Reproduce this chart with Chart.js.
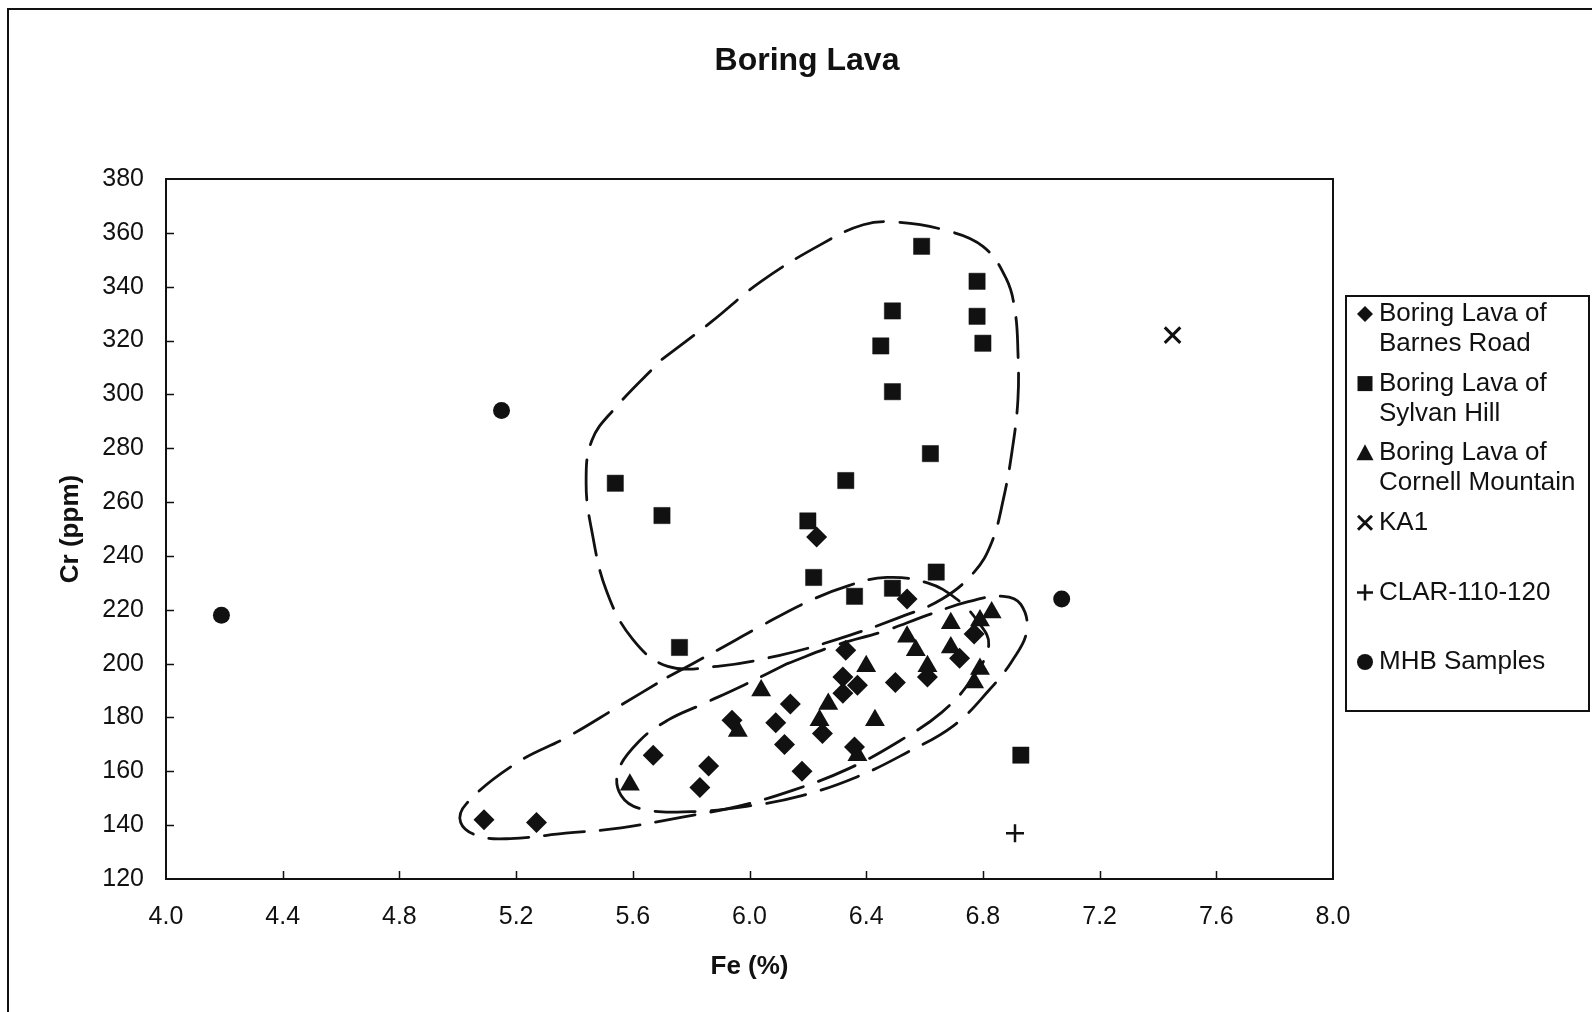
<!DOCTYPE html>
<html>
<head>
<meta charset="utf-8">
<script src="https://cdn.jsdelivr.net/npm/chart.js@4.4.1/dist/chart.umd.min.js"></script>
<style>
  html, body { margin: 0; padding: 0; background: #fff; }
  #wrap { width: 1592px; height: 1012px; }
</style>
</head>
<body>
<div id="wrap"><canvas id="canvas" width="1592" height="1012"></canvas></div>
<script>
// Boring Lava of Barnes Road (diamonds)
const barnesFe = [6.23, 6.54, 6.33, 6.77, 6.72, 6.32, 6.37, 6.50, 6.61, 6.32, 6.14, 5.94, 6.09, 6.25, 6.12, 6.36, 5.67, 5.86, 6.18, 5.83, 5.09, 5.27];
const barnesCr = [247, 224, 205, 211, 202, 195, 192, 193, 195, 189, 185, 179, 178, 174, 170, 169, 166, 162, 160, 154, 142, 141];

// Boring Lava of Sylvan Hill (squares)
const sylvanFe = [6.59, 6.78, 6.49, 6.78, 6.45, 6.80, 6.49, 6.62, 5.54, 6.33, 5.70, 6.20, 6.22, 6.64, 6.36, 6.49, 5.76, 6.93];
const sylvanCr = [355, 342, 331, 329, 318, 319, 301, 278, 267, 268, 255, 253, 232, 234, 225, 228, 206, 166];

// Boring Lava of Cornell Mountain (triangles)
const cornellFe = [6.83, 6.79, 6.69, 6.54, 6.57, 6.69, 6.61, 6.40, 6.79, 6.77, 6.04, 6.27, 6.24, 5.96, 6.43, 6.37, 5.59];
const cornellCr = [219, 216, 215, 210, 205, 206, 199, 199, 198, 193, 190, 185, 179, 175, 179, 166, 155];

const ka1Fe = [7.45];
const ka1Cr = [322];
const clarFe = [6.91];
const clarCr = [137];
const mhbFe = [5.15, 4.19, 7.07];
const mhbCr = [294, 218, 224];

// hand drawn dashed outlines
const loopAFe = [5.70, 5.87, 6.04, 6.25, 6.39, 6.50, 6.67, 6.80, 6.88, 6.91, 6.92, 6.92, 6.90, 6.87, 6.83, 6.77, 6.66, 6.51, 6.30, 6.10, 5.89, 5.72, 5.60, 5.51, 5.46, 5.44, 5.46, 5.54, 5.70];
const loopACr = [313, 327, 342, 356, 363, 364, 361, 355, 343, 331, 316, 298, 279, 261, 245, 234, 224, 217, 209, 203, 199, 199, 209, 227, 249, 267, 283, 295, 313];
const loopBFe = [5.72, 5.89, 6.04, 6.20, 6.34, 6.47, 6.61, 6.71, 6.78, 6.82, 6.76, 6.66, 6.51, 6.34, 6.15, 5.96, 5.77, 5.56, 5.37, 5.18, 5.07, 5.01, 5.03, 5.20, 5.38, 5.55, 5.72];
const loopBCr = [195, 205, 214, 223, 229, 232, 230, 224, 216, 207, 194, 182, 171, 161, 153, 147, 143, 139, 137, 135, 136, 141, 148, 163, 173, 184, 195];
const loopCFe = [6.13, 6.30, 6.46, 6.61, 6.75, 6.87, 6.93, 6.95, 6.90, 6.82, 6.70, 6.54, 6.37, 6.18, 5.99, 5.80, 5.63, 5.56, 5.55, 5.62, 5.72, 5.84, 5.98, 6.13];
const loopCCr = [200, 207, 212, 218, 223, 225, 222, 212, 201, 190, 177, 167, 158, 151, 147, 145, 146, 151, 160, 171, 179, 185, 192, 200];

const legendLabels = [
  ['Boring Lava of', 'Barnes Road'],
  ['Boring Lava of', 'Sylvan Hill'],
  ['Boring Lava of', 'Cornell Mountain'],
  ['KA1'],
  ['CLAR-110-120'],
  ['MHB Samples']
];
const xTicks = [4.0, 4.4, 4.8, 5.2, 5.6, 6.0, 6.4, 6.8, 7.2, 7.6, 8.0];

const ink = '#111';
const fontFamily = '"Liberation Sans", Arial, Helvetica, sans-serif';

const toPts = (xs, ys) => xs.map((x, i) => ({ x: x, y: ys[i] }));

function markerSet(label, xs, ys, style, radius, bw) {
  return {
    label: label,
    data: toPts(xs, ys),
    pointStyle: style,
    pointRadius: radius,
    pointBackgroundColor: ink,
    pointBorderColor: ink,
    pointBorderWidth: bw,
    showLine: false,
    order: 0
  };
}

function outline(label, xs, ys) {
  return {
    label: label,
    data: toPts(xs, ys),
    showLine: true,
    pointRadius: 0,
    borderColor: ink,
    borderWidth: 2.8,
    borderDash: [40, 16],
    borderCapStyle: 'round',
    tension: 0.4,
    fill: false,
    order: 1
  };
}

// frame, title, plot box, inner tick marks and legend box
const decorations = {
  id: 'decorations',
  afterDraw(chart) {
    const ctx = chart.ctx;
    const a = chart.chartArea;
    const xs = chart.scales.x, ys = chart.scales.y;
    ctx.save();
    ctx.strokeStyle = ink;
    ctx.fillStyle = ink;

    // outer frame
    ctx.lineWidth = 2;
    ctx.beginPath();
    ctx.moveTo(8, 1012); ctx.lineTo(8, 9); ctx.lineTo(1592, 9);
    ctx.stroke();

    // plot box
    ctx.strokeRect(a.left, a.top, a.right - a.left, a.bottom - a.top);

    // tick marks pointing inwards
    ctx.lineWidth = 1.5;
    ctx.beginPath();
    for (let v = 140; v < 380; v += 20) {
      const py = Math.round(ys.getPixelForValue(v)) + 0.5;
      ctx.moveTo(a.left, py); ctx.lineTo(a.left + 8, py);
    }
    xTicks.slice(1, -1).forEach(v => {
      const px = Math.round(xs.getPixelForValue(v)) + 0.5;
      ctx.moveTo(px, a.bottom); ctx.lineTo(px, a.bottom - 8);
    });
    ctx.stroke();

    // title
    ctx.font = 'bold 32px ' + fontFamily;
    ctx.textAlign = 'center';
    ctx.textBaseline = 'middle';
    ctx.fillText('Boring Lava', 807, 61);

    // legend
    const box = { left: 1346, top: 296, width: 243, height: 415 };
    ctx.lineWidth = 2;
    ctx.strokeRect(box.left, box.top, box.width, box.height);
    ctx.font = '26px ' + fontFamily;
    ctx.textAlign = 'left';
    const styles = ['diamond', 'square', 'triangle', 'x', 'plus', 'circle'];
    legendLabels.forEach((lines, i) => {
      const cy = 314 + i * 69.6;
      drawMarker(ctx, styles[i], 1365, cy);
      lines.forEach((t, j) => ctx.fillText(t, 1379, cy + j * 30));
    });
    ctx.restore();
  }
};

function drawMarker(ctx, style, x, y) {
  ctx.beginPath();
  if (style === 'diamond') {
    ctx.moveTo(x, y - 8); ctx.lineTo(x + 8, y); ctx.lineTo(x, y + 8); ctx.lineTo(x - 8, y);
    ctx.closePath(); ctx.fill();
  } else if (style === 'square') {
    ctx.rect(x - 7.5, y - 7.5, 15, 15); ctx.fill();
  } else if (style === 'triangle') {
    ctx.moveTo(x, y - 9); ctx.lineTo(x + 8.5, y + 7); ctx.lineTo(x - 8.5, y + 7);
    ctx.closePath(); ctx.fill();
  } else if (style === 'circle') {
    ctx.arc(x, y, 8, 0, Math.PI * 2); ctx.fill();
  } else if (style === 'x') {
    ctx.lineWidth = 3;
    ctx.moveTo(x - 7, y - 7); ctx.lineTo(x + 7, y + 7);
    ctx.moveTo(x + 7, y - 7); ctx.lineTo(x - 7, y + 7);
    ctx.stroke();
  } else if (style === 'plus') {
    ctx.lineWidth = 2.5;
    ctx.moveTo(x - 8, y); ctx.lineTo(x + 8, y);
    ctx.moveTo(x, y - 8); ctx.lineTo(x, y + 8);
    ctx.stroke();
  }
}

const ctx = document.getElementById('canvas').getContext('2d');
const chart = new Chart(ctx, {
  type: 'scatter',
  data: {
    datasets: [
      markerSet('Boring Lava of Barnes Road', barnesFe, barnesCr, 'rectRot', 10.5, 0),
      markerSet('Boring Lava of Sylvan Hill', sylvanFe, sylvanCr, 'rect', 11.5, 0.5),
      markerSet('Boring Lava of Cornell Mountain', cornellFe, cornellCr, 'triangle', 11.5, 0),
      markerSet('KA1', ka1Fe, ka1Cr, 'crossRot', 11, 3),
      markerSet('CLAR-110-120', clarFe, clarCr, 'cross', 9, 2.5),
      markerSet('MHB Samples', mhbFe, mhbCr, 'circle', 8.5, 0),
      outline('outline A', loopAFe, loopACr),
      outline('outline B', loopBFe, loopBCr),
      outline('outline C', loopCFe, loopCCr)
    ]
  },
  options: {
    responsive: false,
    animation: false,
    layout: { padding: { top: 179, right: 259, left: 0, bottom: 0 } },
    plugins: {
      legend: { display: false },
      title: { display: false },
      tooltip: { enabled: false }
    },
    scales: {
      x: {
        type: 'linear',
        min: 4, max: 8,
        afterBuildTicks: s => { s.ticks = xTicks.map(v => ({ value: v })); },
        afterFit: s => { s.height = 1012 - 879; },
        ticks: {
          color: ink,
          padding: 23,
          font: { family: fontFamily, size: 25 },
          callback: v => Number(v).toFixed(1)
        },
        grid: { display: false, drawTicks: false },
        border: { display: false },
        title: {
          display: true, text: 'Fe (%)', color: ink,
          font: { family: fontFamily, size: 26, weight: 'bold' },
          padding: { top: 0, bottom: 30 }
        }
      },
      y: {
        type: 'linear',
        min: 120, max: 380,
        afterFit: s => { s.width = 166; },
        ticks: {
          color: ink,
          stepSize: 20,
          padding: 22,
          font: { family: fontFamily, size: 25 }
        },
        grid: { display: false, drawTicks: false },
        border: { display: false },
        title: {
          display: true, text: 'Cr (ppm)', color: ink,
          font: { family: fontFamily, size: 26, weight: 'bold' },
          padding: { top: 55, bottom: 0 }
        }
      }
    }
  },
  plugins: [decorations]
});
</script>
</body>
</html>
